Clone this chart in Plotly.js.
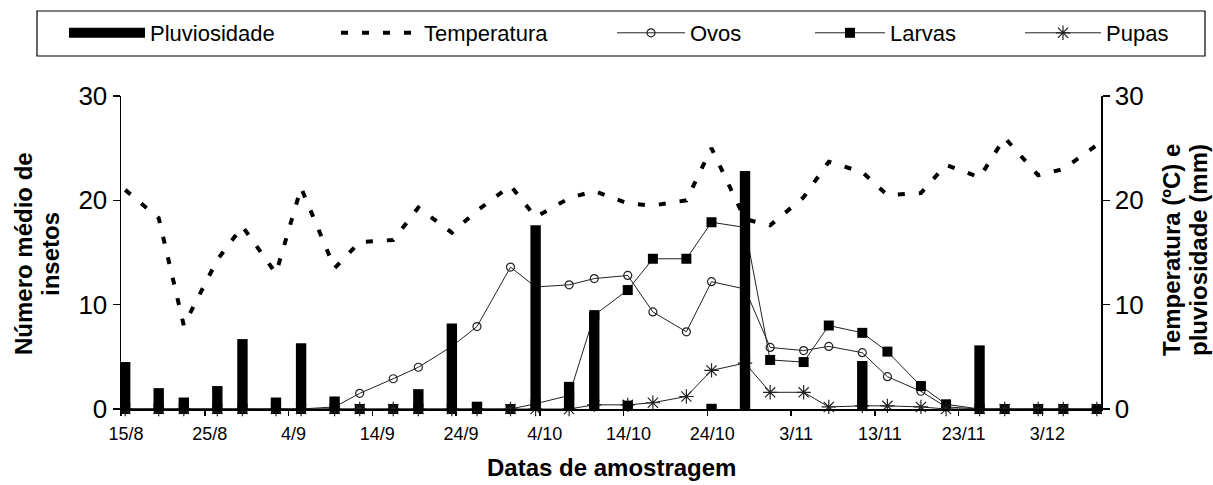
<!DOCTYPE html>
<html>
<head>
<meta charset="utf-8">
<script src="https://cdn.plot.ly/plotly-3.0.1.min.js"></script>
<style>
  html, body { margin: 0; padding: 0; background: #ffffff; }
  #chart { width: 1213px; height: 485px; }
</style>
</head>
<body>
<div id="chart"></div>
<script>
// Sampling dates (twice a week, 2005 season)
const sampleDates = [
  '2005-08-15','2005-08-19','2005-08-22','2005-08-26','2005-08-29','2005-09-02',
  '2005-09-05','2005-09-09','2005-09-12','2005-09-16','2005-09-19','2005-09-23',
  '2005-09-26','2005-09-30','2005-10-03','2005-10-07','2005-10-10','2005-10-14',
  '2005-10-17','2005-10-21','2005-10-24','2005-10-28','2005-10-31','2005-11-04',
  '2005-11-07','2005-11-11','2005-11-14','2005-11-18','2005-11-21','2005-11-25',
  '2005-11-28','2005-12-02','2005-12-05','2005-12-09'
];

// Rainfall (mm) per sampling date
const rainfall = [
  4.5, 2.0, 1.1, 2.2, 6.7, 1.1, 6.3, 1.2, 0, 0, 1.9, 8.2,
  0.7, 0, 17.6, 2.6, 9.3, 0.8, 0, 0, 0.5, 22.8, 0, 0,
  0, 4.6, 0, 0, 0, 6.1, 0, 0, 0, 0.3
];

// Mean temperature (ºC)
const temperature = [
  21.0, 18.3, 8.0, 14.3, 17.5, 13.0, 21.2, 13.5, 16.0, 16.2, 19.3, 16.9,
  19.0, 21.4, 18.4, 20.2, 20.9, 19.7, 19.5, 20.0, 25.0, 18.2, 17.6, 20.3,
  23.7, 22.7, 20.5, 20.7, 23.4, 22.2, 26.0, 22.4, 23.0, 25.3
];

// Mean number of insects per stage
const eggs = [
  0, 0, 0, 0, 0, 0, 0, 0.2, 1.5, 2.9, 4.0, 6.0,
  7.9, 13.6, 11.7, 11.9, 12.5, 12.8, 9.3, 7.4, 12.2, 11.5, 5.9, 5.6,
  6.0, 5.4, 3.1, 1.7, 0.2, 0, 0, 0, 0, 0
];
const larvae = [
  0, 0, 0, 0, 0, 0, 0, 0, 0, 0, 0, 0,
  0, 0, 0.5, 1.3, 9.0, 11.4, 14.4, 14.4, 17.9, 17.4, 4.7, 4.5,
  8.0, 7.3, 5.5, 2.2, 0.45, 0, 0, 0, 0, 0
];
const pupae = [
  0, 0, 0, 0, 0, 0, 0, 0, 0, 0, 0, 0,
  0, 0, 0, 0, 0.4, 0.4, 0.6, 1.2, 3.7, 4.4, 1.6, 1.6,
  0.2, 0.3, 0.3, 0.2, 0, 0, 0, 0, 0, 0
];

// Date-axis labels, every 10 days
const tickLabels = ['15/8','25/8','4/9','14/9','24/9','4/10','14/10','24/10','3/11','13/11','23/11','3/12'];

// Each day is a slot; tick marks sit at the slot boundary (half a day before the date)
const DAY = 86400000;
function slotStart(label) {
  const [d, m] = label.split('/').map(Number);
  const t = new Date(Date.UTC(2005, m - 1, d) - DAY / 2).toISOString();
  return t.slice(0, 10) + ' ' + t.slice(11, 16);
}
const tickVals = tickLabels.map(slotStart);

const FONT = '"Liberation Sans", Arial, sans-serif';
const INK = '#000000';
const SERIES = '#222222';

const legendBase = {
  orientation: 'h', yanchor: 'middle', xanchor: 'left', y: 1.2013,
  bgcolor: 'rgba(0,0,0,0)', borderwidth: 0, itemwidth: 80,
  font: { family: FONT, size: 22, color: INK }, itemclick: false, itemdoubleclick: false
};
// pixel -> paper helpers for the plot area (x 121..1101, y 96..409)
const px = v => (v - 121) / 980;
const py = v => (409 - v) / 313;

const traces = [
  // legend swatch for rainfall (wide solid block)
  { x: [null], y: [null], type: 'scatter', mode: 'lines', name: 'Pluviosidade',
    line: { color: INK, width: 16 }, yaxis: 'y2', legend: 'legend', hoverinfo: 'skip' },
  { x: sampleDates, y: eggs, type: 'scatter', mode: 'lines+markers', name: 'Ovos',
    line: { color: SERIES, width: 1 }, cliponaxis: false,
    marker: { symbol: 'circle-open', size: 8, color: SERIES, line: { width: 1.2, color: SERIES } },
    legend: 'legend3' },
  { x: sampleDates, y: larvae, type: 'scatter', mode: 'lines+markers', name: 'Larvas',
    line: { color: SERIES, width: 1 }, cliponaxis: false,
    marker: { symbol: 'square', size: 10, color: INK },
    legend: 'legend4' },
  { x: sampleDates, y: pupae, type: 'scatter', mode: 'lines+markers', name: 'Pupas',
    line: { color: SERIES, width: 1 }, cliponaxis: false,
    marker: { symbol: 'asterisk-open', size: 12, color: SERIES, line: { width: 1.2, color: SERIES } },
    legend: 'legend5' },
  { x: sampleDates, y: rainfall, type: 'bar', name: 'Pluviosidade', showlegend: false,
    marker: { color: INK, line: { width: 0 } }, width: 1.24 * DAY, yaxis: 'y2' },
  { x: sampleDates, y: temperature, type: 'scatter', mode: 'lines', name: 'Temperatura',
    line: { color: INK, width: 4, dash: '7px,14px' }, yaxis: 'y2', legend: 'legend2' }
];

const yCommon = {
  range: [0, 30], tickvals: [0, 10, 20, 30], showgrid: false, zeroline: false,
  showline: true, linecolor: INK, linewidth: 1.5,
  ticks: 'outside', ticklen: 7, tickwidth: 1.5, tickcolor: INK,
  tickfont: { family: FONT, size: 26, color: INK }, fixedrange: true
};

const layout = {
  width: 1213, height: 485,
  margin: { l: 121, r: 112, t: 96, b: 76 },
  paper_bgcolor: '#ffffff', plot_bgcolor: '#ffffff',
  font: { family: FONT, color: INK },
  barmode: 'overlay',
  xaxis: {
    type: 'date', range: ['2005-08-14 12:00', '2005-12-09 12:00'],
    tickmode: 'array', tickvals: tickVals, ticktext: tickLabels,
    ticks: 'outside', ticklen: 5, tickwidth: 1.5, tickcolor: INK,
    ticklabelshift: 5, ticklabelstandoff: 3,
    showline: true, linecolor: INK, linewidth: 1.5, showgrid: false, zeroline: false,
    tickfont: { family: FONT, size: 18, color: INK }, fixedrange: true
  },
  yaxis: Object.assign({}, yCommon),
  yaxis2: Object.assign({}, yCommon, { overlaying: 'y', side: 'right' }),
  // inner half of the crossing tick marks on the right axis
  yaxis3: { overlaying: 'y', side: 'right', range: [0, 30], tickvals: [0, 10, 20, 30],
            ticks: 'inside', ticklen: 7, tickwidth: 1.5, tickcolor: INK,
            showticklabels: false, showline: false, showgrid: false, zeroline: false, fixedrange: true },
  legend:  Object.assign({}, legendBase, { x: px(64), itemwidth: 76 }),
  legend2: Object.assign({}, legendBase, { x: px(336), itemwidth: 78 }),
  legend3: Object.assign({}, legendBase, { x: px(612), itemwidth: 68 }),
  legend4: Object.assign({}, legendBase, { x: px(810), itemwidth: 70 }),
  legend5: Object.assign({}, legendBase, { x: px(1020), itemwidth: 76 }),
  shapes: [
    { type: 'rect', xref: 'paper', yref: 'paper', x0: px(37), x1: px(1205), y0: py(56), y1: py(11),
      line: { color: INK, width: 1.2 }, fillcolor: 'rgba(0,0,0,0)' }
  ],
  annotations: [
    { text: '<b>Datas de amostragem</b>', xref: 'paper', yref: 'paper', x: 0.5, y: py(468),
      xanchor: 'center', yanchor: 'middle', showarrow: false, font: { family: FONT, size: 24, color: INK } },
    { text: '<b>Número médio de</b>', xref: 'paper', yref: 'paper', x: px(23), y: py(254),
      xanchor: 'center', yanchor: 'middle', textangle: -90, showarrow: false, font: { family: FONT, size: 24, color: INK } },
    { text: '<b>insetos</b>', xref: 'paper', yref: 'paper', x: px(50), y: py(254),
      xanchor: 'center', yanchor: 'middle', textangle: -90, showarrow: false, font: { family: FONT, size: 24, color: INK } },
    { text: '<b>Temperatura (ºC) e</b>', xref: 'paper', yref: 'paper', x: px(1172), y: py(250),
      xanchor: 'center', yanchor: 'middle', textangle: -90, showarrow: false, font: { family: FONT, size: 24, color: INK } },
    { text: '<b>pluviosidade (mm)</b>', xref: 'paper', yref: 'paper', x: px(1199), y: py(250),
      xanchor: 'center', yanchor: 'middle', textangle: -90, showarrow: false, font: { family: FONT, size: 24, color: INK } }
  ]
};

Plotly.newPlot('chart', traces, layout, { displayModeBar: false, staticPlot: true });
</script>
</body>
</html>
